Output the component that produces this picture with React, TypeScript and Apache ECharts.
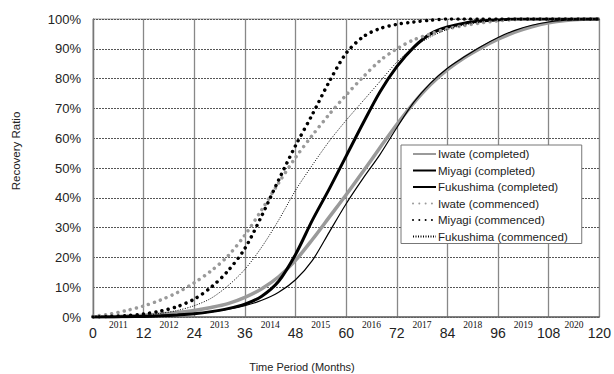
import React, { useEffect, useRef } from "react";
import * as echarts from "echarts";

const months = [0, 4, 8, 12, 16, 20, 24, 28, 32, 36, 40, 44, 48, 52, 56, 60, 64, 68, 72, 76, 80, 84, 88, 92, 96, 100, 104, 108, 112, 116, 120];

const iwateCompleted = [0, 0.1, 0.3, 0.6, 1, 1.5, 2.2, 3.2, 4.5, 6.6, 9.5, 13.5, 19, 26, 33.5, 41, 48.8, 56.8, 64.6, 71.8, 78, 83, 87, 90.3, 93.2, 95.6, 97.4, 98.7, 99.5, 99.9, 100];
const miyagiCompleted = [0, 0, 0.1, 0.2, 0.4, 0.7, 1.1, 1.8, 2.8, 4.3, 7, 12, 21, 32.5, 43, 54, 65, 75.5, 84, 90.5, 95, 97.3, 98.6, 99.3, 99.7, 100, 100, 100, 100, 100, 100];
const fukushimaCompleted = [0, 0, 0.1, 0.2, 0.4, 0.7, 1.1, 1.7, 2.6, 3.8, 5.6, 8.3, 12.5, 19, 28.5, 38, 46.5, 54.5, 63.5, 72, 78.5, 83.5, 87.3, 90.8, 93.8, 96.2, 97.9, 99, 99.6, 99.9, 100];
const iwateCommenced = [0.3, 1, 2.2, 3.7, 5.7, 8.2, 11.5, 15.5, 20.5, 27.5, 36, 45, 53.5, 61, 68, 74.5, 80.5, 86, 90, 93, 95, 96.7, 97.8, 98.7, 99.4, 99.8, 100, 100, 100, 100, 100];
const miyagiCommenced = [0, 0.2, 0.5, 1, 2, 3.5, 6, 10, 15.5, 23, 34, 46, 57.5, 68, 79, 88.5, 94, 96.8, 98.2, 99, 99.6, 100, 100, 100, 100, 100, 100, 100, 100, 100, 100];
const fukushimaCommenced = [0, 0.1, 0.3, 0.6, 1.2, 2.2, 3.8, 6.3, 10.5, 16, 23.5, 32.5, 42.5, 51, 59, 66, 72.5, 79, 85.5, 90.5, 94, 96.5, 98, 99, 99.6, 100, 100, 100, 100, 100, 100];

const yearLabels = ["2011", "2012", "2013", "2014", "2015", "2016", "2017", "2018", "2019", "2020"];

const seriesNames = [
  "Iwate (completed)",
  "Miyagi (completed)",
  "Fukushima (completed)",
  "Iwate (commenced)",
  "Miyagi (commenced)",
  "Fukushima (commenced)",
];

const GREY = "#9a9a9a";
const BLACK = "#000000";

function pairs(vals: number[]) {
  return months.map((m, i) => [m, vals[i]]);
}

export default function App() {
  const ref = useRef<HTMLDivElement>(null);
  useEffect(() => {
    if (!ref.current) return;
    const chart = echarts.init(ref.current, undefined, { renderer: "svg" });
    const font = "Liberation Sans, Arial, sans-serif";
    const mk = (name: string, vals: number[], color: string, width: number, type: any, cap: any = "butt") => ({
      name,
      type: "line",
      data: pairs(vals),
      showSymbol: false,
      symbol: "none",
      smooth: 0.3,
      lineStyle: { color, width, type, cap },
      itemStyle: { color },
    });
    chart.setOption({
      animation: false,
      backgroundColor: "#ffffff",
      grid: { left: 93, right: 11, top: 19, bottom: 57, show: true, borderColor: "#a0a0a0", borderWidth: 1 },
      xAxis: [
        {
          type: "value",
          min: 0,
          max: 120,
          interval: 12,
          position: "bottom",
          axisLine: { show: true, lineStyle: { color: "#666", width: 1.5 } },
          axisTick: { show: false },
          axisLabel: { color: "#222", fontSize: 14, fontFamily: font, margin: 9 },
          splitLine: { show: true, lineStyle: { color: "#888", width: 1.3, type: "solid" } },
        },
        {
          type: "category",
          data: yearLabels,
          position: "bottom",
          boundaryGap: true,
          axisLine: { show: false },
          axisTick: { show: false },
          splitLine: { show: false },
          axisLabel: { color: "#111", fontSize: 9.5, fontFamily: "Liberation Serif, serif", margin: 3, interval: 0 },
        },
      ],
      yAxis: {
        type: "value",
        min: 0,
        max: 100,
        interval: 10,
        axisLine: { show: true, lineStyle: { color: "#777", width: 1.3 } },
        axisTick: { show: false },
        axisLabel: { color: "#222", fontSize: 13, fontFamily: font, margin: 12, formatter: "{value}%" },
        splitLine: { show: true, lineStyle: { color: "#555", width: 1, type: [2, 1] } },
      },
      legend: {
        orient: "vertical",
        left: 401,
        top: 145,
        data: seriesNames,
        itemWidth: 23,
        itemHeight: 12,
        itemGap: 4.5,
        padding: [3, 14, 1, 11],
        backgroundColor: "#ffffff",
        borderColor: "#777",
        borderWidth: 1,
        borderRadius: 0,
        itemStyle: { opacity: 0, borderWidth: 0 },
        textStyle: { color: "#222", fontSize: 11.5, fontFamily: font, padding: [0, 0, 0, -3] },
      },
      graphic: [
        {
          type: "text",
          x: 302,
          y: 367,
          style: { text: "Time Period (Months)", fontSize: 11, fontFamily: font, fill: "#222", align: "center", verticalAlign: "middle" },
        },
        {
          type: "text",
          x: 16,
          y: 151,
          rotation: Math.PI / 2,
          style: { text: "Recovery Ratio", fontSize: 11.5, fontFamily: font, fill: "#222", align: "center", verticalAlign: "middle" },
        },
      ],
      series: [
        mk(seriesNames[0], iwateCompleted, GREY, 3.5, "solid"),
        mk(seriesNames[1], miyagiCompleted, BLACK, 3, "solid"),
        mk(seriesNames[2], fukushimaCompleted, BLACK, 1.2, "solid"),
        mk(seriesNames[3], iwateCommenced, GREY, 3.5, [0.01, 6.3], "round"),
        mk(seriesNames[4], miyagiCommenced, BLACK, 3.5, [0.01, 6.3], "round"),
        mk(seriesNames[5], fukushimaCommenced, BLACK, 1, [1, 1.5]),
      ],
    });
    return () => chart.dispose();
  }, []);
  return <div ref={ref} style={{ width: 614, height: 374, position: "absolute", left: 0, top: 0 }} />;
}
